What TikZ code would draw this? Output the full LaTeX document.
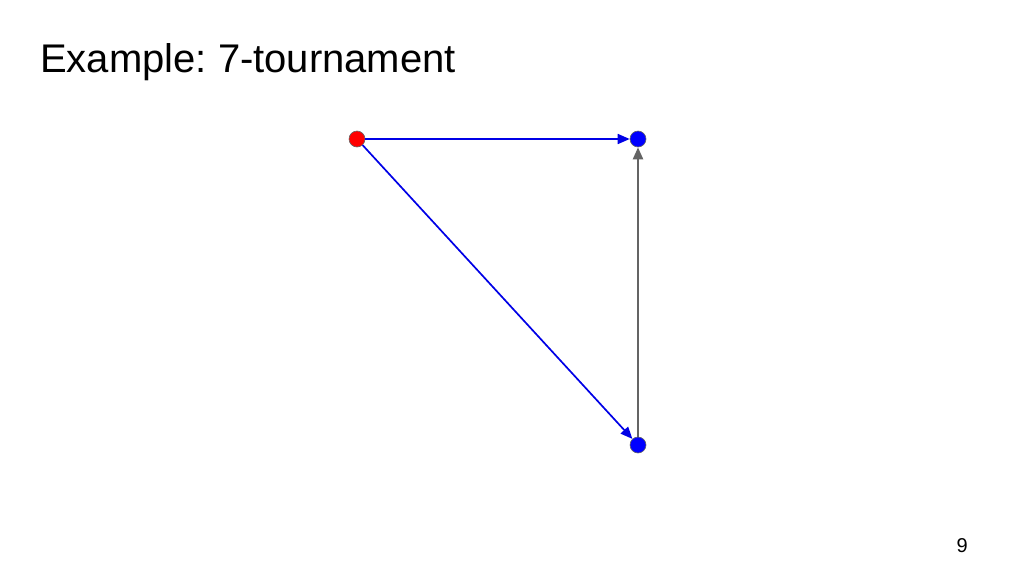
\documentclass[tikz,border=0pt]{standalone}
\usepackage{fontspec}
\setmainfont{Liberation Sans}
\usetikzlibrary{arrows.meta}
\definecolor{eblue}{RGB}{0,0,230}
\definecolor{egray}{RGB}{100,100,100}
\frenchspacing
\begin{document}
\begin{tikzpicture}[x=1pt,y=-1pt,
  vert/.style={circle,minimum size=16pt,inner sep=0pt,draw=gray!80!black,line width=0.6pt},
  redv/.style={vert,fill=red},
  bluev/.style={vert,fill=blue},
  bedge/.style={draw=eblue,line width=1.7pt,-{Triangle[length=12pt,width=10pt]}},
  gedge/.style={draw=egray,line width=2.2pt,-{Triangle[length=12pt,width=10pt]}}]
\useasboundingbox (0,0) rectangle (1024,576);
\node[anchor=base west,font=\fontsize{40}{42}\selectfont,inner sep=0pt] (title) at (40,72) {Example: 7-tournament};
\node[anchor=base east,font=\fontsize{20}{22}\selectfont,inner sep=0pt] (page) at (968,552) {9};
\node[redv] (a) at (357,139) {};
\node[bluev] (b) at (638,139) {};
\node[bluev] (c) at (638,445) {};
\draw[bedge] (a) -- (b);
\draw[bedge] (a) -- (c);
\draw[gedge] (c) -- (b);
\end{tikzpicture}
\end{document}
